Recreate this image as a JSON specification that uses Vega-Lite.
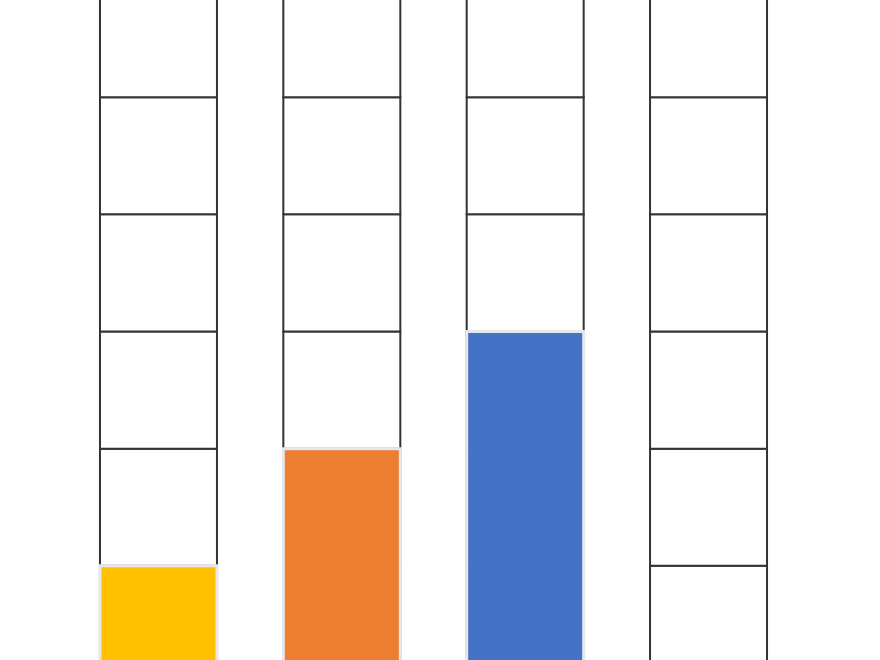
{
  "$schema": "https://vega.github.io/schema/vega-lite/v6.json",
  "width": 880,
  "height": 660,
  "padding": 0,
  "autosize": "none",
  "background": "white",
  "config": {"view": {"stroke": null}},
  "datasets": {
    "cells": [
      {"col": "A", "level": 0}, {"col": "A", "level": 1}, {"col": "A", "level": 2},
      {"col": "A", "level": 3}, {"col": "A", "level": 4}, {"col": "A", "level": 5},
      {"col": "B", "level": 0}, {"col": "B", "level": 1}, {"col": "B", "level": 2},
      {"col": "B", "level": 3}, {"col": "B", "level": 4}, {"col": "B", "level": 5},
      {"col": "C", "level": 0}, {"col": "C", "level": 1}, {"col": "C", "level": 2},
      {"col": "C", "level": 3}, {"col": "C", "level": 4}, {"col": "C", "level": 5},
      {"col": "D", "level": 0}, {"col": "D", "level": 1}, {"col": "D", "level": 2},
      {"col": "D", "level": 3}, {"col": "D", "level": 4}, {"col": "D", "level": 5}
    ],
    "bars": [
      {"col": "A", "value": 1},
      {"col": "B", "value": 2},
      {"col": "C", "value": 3}
    ]
  },
  "encoding": {
    "x": {
      "field": "col",
      "type": "nominal",
      "axis": null,
      "scale": {
        "domain": ["A", "B", "C", "D"],
        "paddingInner": 0.362,
        "paddingOuter": 0.5807,
        "align": 0.4695
      }
    }
  },
  "layer": [
    {
      "data": {"name": "cells"},
      "mark": {"type": "rect", "fill": "white", "stroke": "#333333", "strokeWidth": 2},
      "encoding": {
        "y": {
          "field": "level",
          "type": "ordinal",
          "axis": null,
          "scale": {
            "domain": [5, 4, 3, 2, 1, 0],
            "range": [-20, 683],
            "paddingInner": 0,
            "paddingOuter": 0
          }
        }
      }
    },
    {
      "data": {"name": "bars"},
      "mark": {"type": "bar", "stroke": "#e4e7ec", "strokeWidth": 3},
      "encoding": {
        "y": {
          "field": "value",
          "type": "quantitative",
          "axis": null,
          "scale": {"domain": [0, 6], "range": [683, -20], "nice": false, "zero": true}
        },
        "color": {
          "field": "col",
          "type": "nominal",
          "legend": null,
          "scale": {"domain": ["A", "B", "C"], "range": ["#FFC000", "#ED7D31", "#4472C4"]}
        }
      }
    }
  ],
  "resolve": {"scale": {"y": "independent"}}
}
